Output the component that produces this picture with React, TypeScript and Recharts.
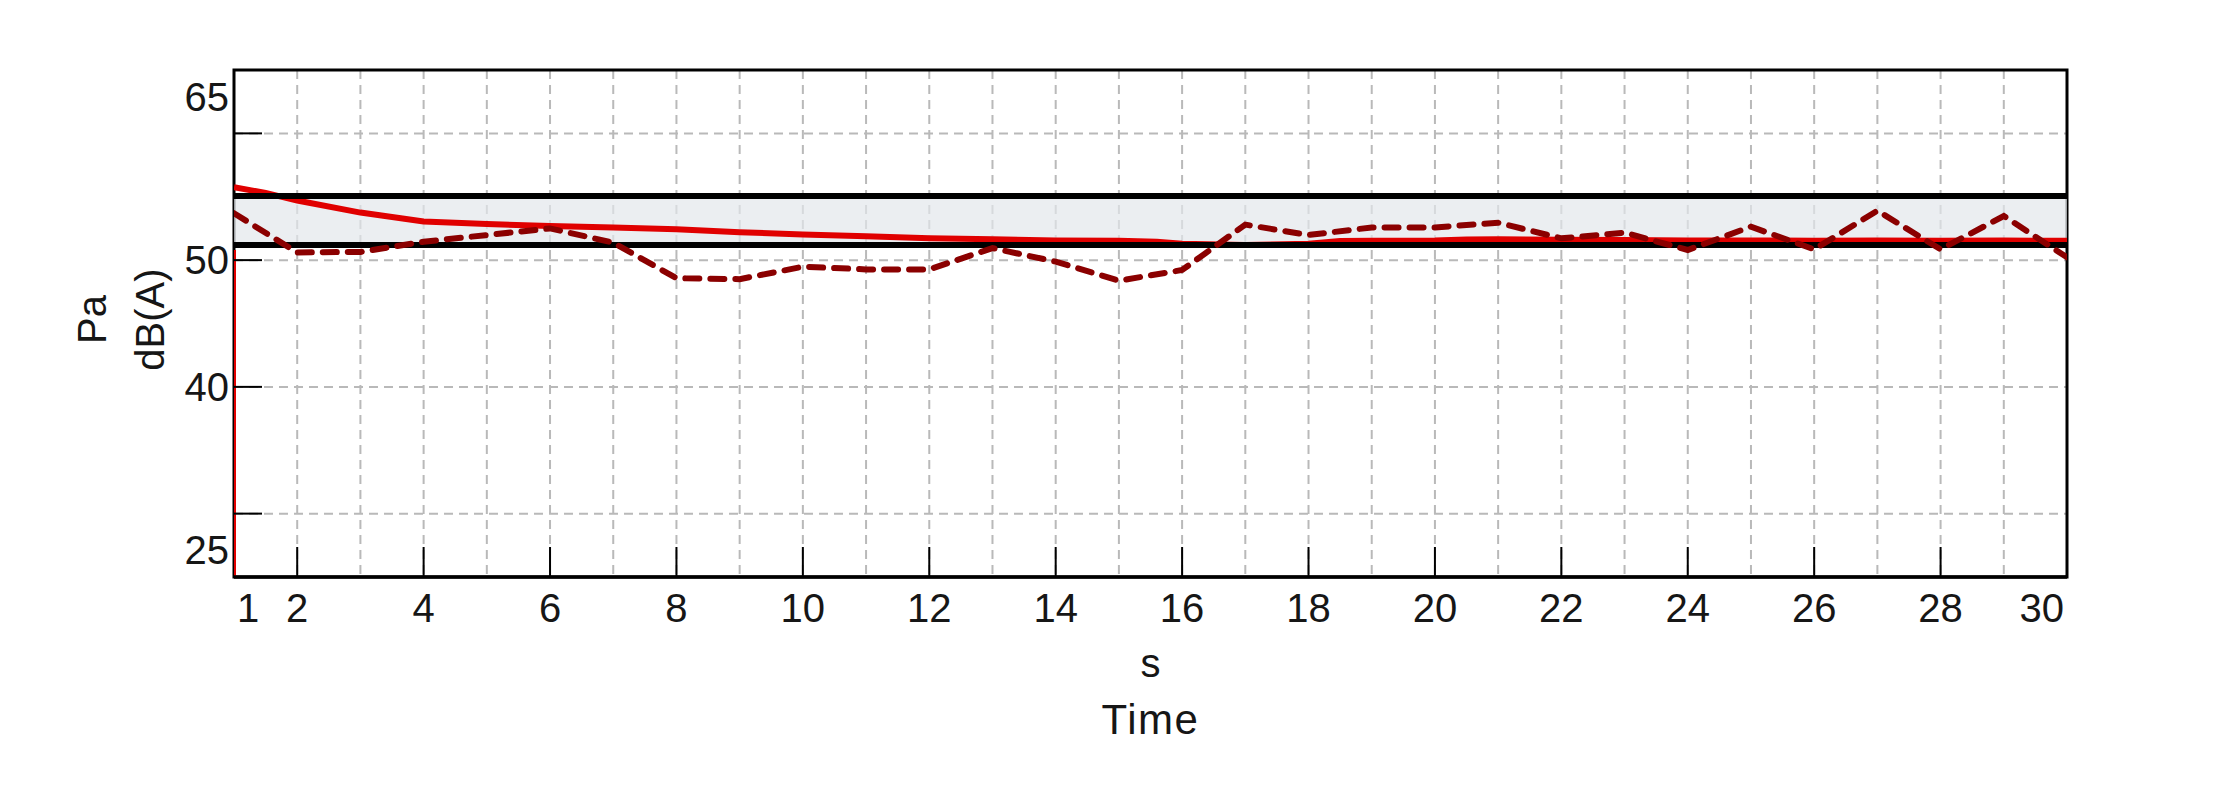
import React from "react";
import { ComposedChart, Area, Line, XAxis, YAxis, CartesianGrid, ReferenceArea } from "recharts";

// axis ticks
const xTicks = [1, 2, 3, 4, 5, 6, 7, 8, 9, 10, 11, 12, 13, 14, 15, 16, 17, 18, 19, 20, 21, 22, 23, 24, 25, 26, 27, 28, 29, 30];
const xLabelTicks = [1, 2, 4, 6, 8, 10, 12, 14, 16, 18, 20, 22, 24, 26, 28, 30];
const xMarkTicks = [2, 4, 6, 8, 10, 12, 14, 16, 18, 20, 22, 24, 26, 28];
const yTicks = [25, 30, 40, 50, 60, 65];
const yLabelTicks = [25, 40, 50, 65];
const yMarkTicks = [30, 40, 50, 60];

// limits band
const limitUpper = 55.05;
const limitLower = 51.2;

// start of the running level (vertical rise at t = 1)
const startX = [1, 1];
const startY = [25, 50.8];

// running level (red)
const levelX = [1, 1.5, 2, 3, 4, 5, 6, 7, 8, 9, 10, 11, 12, 13, 14, 15, 15.6, 16, 17, 18, 18.5, 19, 20, 20.5, 21, 22, 23, 24, 25, 26, 27, 28, 29, 30];
const levelY = [55.75, 55.3, 54.7, 53.75, 53.05, 52.85, 52.7, 52.58, 52.43, 52.2, 52.02, 51.88, 51.72, 51.64, 51.55, 51.52, 51.45, 51.3, 51.2, 51.3, 51.5, 51.53, 51.55, 51.62, 51.64, 51.6, 51.58, 51.55, 51.55, 51.53, 51.55, 51.53, 51.54, 51.53];

// measured level per second (dark red, dashed)
const measX = [1, 2, 3, 4, 5, 6, 7, 8, 9, 10, 11, 12, 13, 14, 15, 16, 17, 18, 19, 20, 21, 22, 23, 24, 25, 26, 27, 28, 29, 30];
const measY = [53.7, 50.6, 50.65, 51.45, 51.98, 52.5, 51.38, 48.57, 48.5, 49.48, 49.27, 49.27, 50.95, 49.88, 48.38, 49.22, 52.8, 51.98, 52.58, 52.58, 52.95, 51.72, 52.17, 50.8, 52.64, 50.85, 53.9, 50.85, 53.48, 50.22];

type Row = {
  x: number;
  start?: number;
  level?: number;
  meas?: number;
  upper?: number;
  lower?: number;
  band?: [number, number];
};

const rows: Row[] = startX.map((x, i) => ({ x, start: startY[i] }));
const allX = Array.from(new Set([...levelX, ...measX])).sort((a, b) => a - b);
allX.forEach((x, i) => {
  const row: Row = { x };
  const li = levelX.indexOf(x);
  if (li >= 0) row.level = levelY[li];
  const mi = measX.indexOf(x);
  if (mi >= 0) row.meas = measY[mi];
  if (i === 0 || i === allX.length - 1) {
    row.upper = limitUpper;
    row.lower = limitLower;
    row.band = [limitLower, limitUpper];
  }
  rows.push(row);
});

const W = 2198;
const H = 796;
const PLOT_L = 226;
const PLOT_T = 62;
const PLOT_R = 2059;
const PLOT_B = 569;
const FONT = "'Liberation Sans', Arial, sans-serif";
const FS = 40;
const INK = "#161616";

function XTick(props: any) {
  const { x, y, payload } = props;
  const v = payload.value;
  let anchor = "middle";
  let dx = 0;
  if (v === xTicks[0]) {
    anchor = "start";
    dx = 3;
  }
  if (v === xTicks[xTicks.length - 1]) {
    anchor = "end";
    dx = -3;
  }
  return (
    <g>
      {xMarkTicks.includes(v) && (
        <line x1={x} x2={x} y1={y} y2={y - 30} stroke="#000" strokeWidth={2} />
      )}
      {xLabelTicks.includes(v) && (
        <text
          x={x + dx}
          y={y + 31}
          textAnchor={anchor}
          dominantBaseline="central"
          fontFamily={FONT}
          fontSize={FS}
          fill={INK}
        >
          {v}
        </text>
      )}
    </g>
  );
}

function YTick(props: any) {
  const { x, y, payload } = props;
  const v = payload.value;
  let dy = 0;
  if (v === yTicks[yTicks.length - 1]) dy = 27;
  if (v === yTicks[0]) dy = -27;
  return (
    <g>
      {yMarkTicks.includes(v) && (
        <line x1={x} x2={x + 28} y1={y} y2={y} stroke="#000" strokeWidth={2} />
      )}
      {yLabelTicks.includes(v) && (
        <text
          x={x - 5}
          y={y + dy}
          textAnchor="end"
          dominantBaseline="central"
          fontFamily={FONT}
          fontSize={FS}
          fill={INK}
        >
          {v}
        </text>
      )}
    </g>
  );
}

const xTitle = () => {
  const cx = (PLOT_L + PLOT_R) / 2;
  return (
    <g fontFamily={FONT} fill={INK}>
      <text x={cx} y={PLOT_B + 86} fontSize={FS} textAnchor="middle" dominantBaseline="central">
        s
      </text>
      <text
        x={cx}
        y={PLOT_B + 142}
        fontSize={42}
        letterSpacing={1.5}
        textAnchor="middle"
        dominantBaseline="central"
      >
        Time
      </text>
    </g>
  );
};

const yTitle = () => {
  const cy = (PLOT_T + PLOT_B) / 2 - 4;
  return (
    <g fontFamily={FONT} fontSize={FS} fill={INK}>
      <text
        x={84}
        y={cy}
        transform={`rotate(-90 84 ${cy})`}
        textAnchor="middle"
        dominantBaseline="central"
      >
        Pa
      </text>
      <text
        x={142}
        y={cy}
        transform={`rotate(-90 142 ${cy})`}
        textAnchor="middle"
        dominantBaseline="central"
      >
        dB(A)
      </text>
    </g>
  );
};

export default function App() {
  return (
    <div style={{ width: W, height: H, background: "#fff" }}>
      <ComposedChart
        width={W}
        height={H}
        data={rows}
        margin={{ top: PLOT_T, right: W - PLOT_R, bottom: 0, left: 0 }}
      >
        <CartesianGrid stroke="#b9b9b9" strokeWidth={2} strokeDasharray="9 6" />
        <XAxis
          dataKey="x"
          type="number"
          domain={[1, 30]}
          ticks={xTicks}
          interval={0}
          height={H - PLOT_B}
          tickSize={0}
          tickMargin={0}
          tickLine={false}
          axisLine={{ stroke: "#000", strokeWidth: 3.5 }}
          tick={XTick}
          label={xTitle}
          allowDataOverflow
        />
        <YAxis
          type="number"
          domain={[25, 65]}
          ticks={yTicks}
          interval={0}
          width={PLOT_L}
          tickSize={0}
          tickMargin={0}
          tickLine={false}
          axisLine={false}
          tick={YTick}
          label={yTitle}
          allowDataOverflow
        />
        <ReferenceArea
          x1={1}
          x2={30}
          y1={25}
          y2={65}
          fill="none"
          fillOpacity={0}
          stroke="#000"
          strokeWidth={3}
          ifOverflow="visible"
        />
        <Area
          dataKey="band"
          fill="#e3e7eb"
          fillOpacity={0.7}
          stroke="none"
          connectNulls
          isAnimationActive={false}
        />
        <Line
          dataKey="start"
          stroke="#e00000"
          strokeWidth={4}
          dot={false}
          activeDot={false}
          isAnimationActive={false}
        />
        <Line
          dataKey="level"
          stroke="#e00000"
          strokeWidth={6}
          dot={false}
          activeDot={false}
          connectNulls
          isAnimationActive={false}
        />
        <Line
          dataKey="upper"
          stroke="#000"
          strokeWidth={6}
          dot={false}
          activeDot={false}
          connectNulls
          isAnimationActive={false}
        />
        <Line
          dataKey="lower"
          stroke="#000"
          strokeWidth={6}
          dot={false}
          activeDot={false}
          connectNulls
          isAnimationActive={false}
        />
        <Line
          dataKey="meas"
          stroke="#8b0000"
          strokeWidth={6}
          strokeDasharray="14 11"
          strokeLinecap="round"
          dot={false}
          activeDot={false}
          connectNulls
          isAnimationActive={false}
        />
      </ComposedChart>
    </div>
  );
}
